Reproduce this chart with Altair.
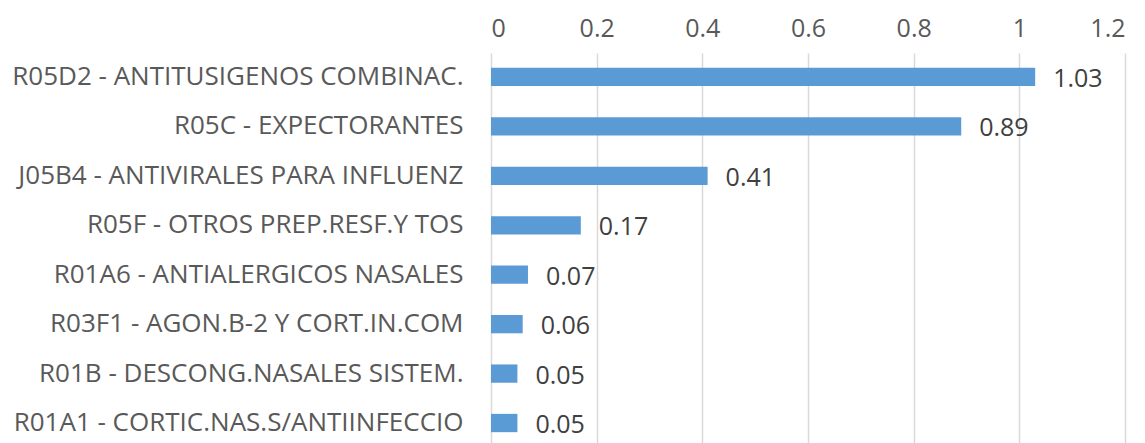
import altair as alt
import pandas as pd

categories = [
    "R05D2 - ANTITUSIGENOS COMBINAC.",
    "R05C - EXPECTORANTES",
    "J05B4 - ANTIVIRALES PARA INFLUENZ",
    "R05F - OTROS PREP.RESF.Y TOS",
    "R01A6 - ANTIALERGICOS NASALES",
    "R03F1 - AGON.B-2 Y CORT.IN.COM",
    "R01B - DESCONG.NASALES SISTEM.",
    "R01A1 - CORTIC.NAS.S/ANTIINFECCIO",
]
values = [1.03, 0.89, 0.41, 0.17, 0.07, 0.06, 0.05, 0.05]
tick_values = [0, 0.2, 0.4, 0.6, 0.8, 1.0, 1.2]

df = pd.DataFrame({"cat": categories, "val": values})
df["lbl"] = [f"{v:.2f}" for v in values]

FONT = "Open Sans"

x = alt.X("val:Q", scale=alt.Scale(domain=[0, 1.2], nice=False),
          axis=alt.Axis(orient="top", values=tick_values, format="~g", title=None,
                        domain=False, ticks=False, grid=True, gridColor="#d9d9d9",
                        gridWidth=1.5, labelColor="#595959", labelFont=FONT,
                        labelFontSize=25, labelPadding=12))
y = alt.Y("cat:N", sort=categories,
          scale=alt.Scale(paddingInner=0.63, paddingOuter=0.3),
          axis=alt.Axis(title=None, domain=False, ticks=False, labelColor="#595959",
                        labelFont=FONT, labelFontSize=26, labelPadding=28, labelLimit=700))

bars = alt.Chart(df).mark_bar(color="#5B9BD5").encode(x=x, y=y)
text = alt.Chart(df).mark_text(align="left", baseline="middle", dx=18, dy=2,
                               font=FONT, fontSize=25, color="#404040").encode(
    x="val:Q", y=alt.Y("cat:N", sort=categories), text="lbl:N")

chart = (bars + text).properties(
    width=634, height=394,
    autosize=alt.AutoSizeParams(type="none"),
    padding={"left": 483, "top": 45, "right": 10, "bottom": 0},
).configure_view(stroke=None)

chart.save("out.html", embed_options={"renderer": "svg", "actions": False})
